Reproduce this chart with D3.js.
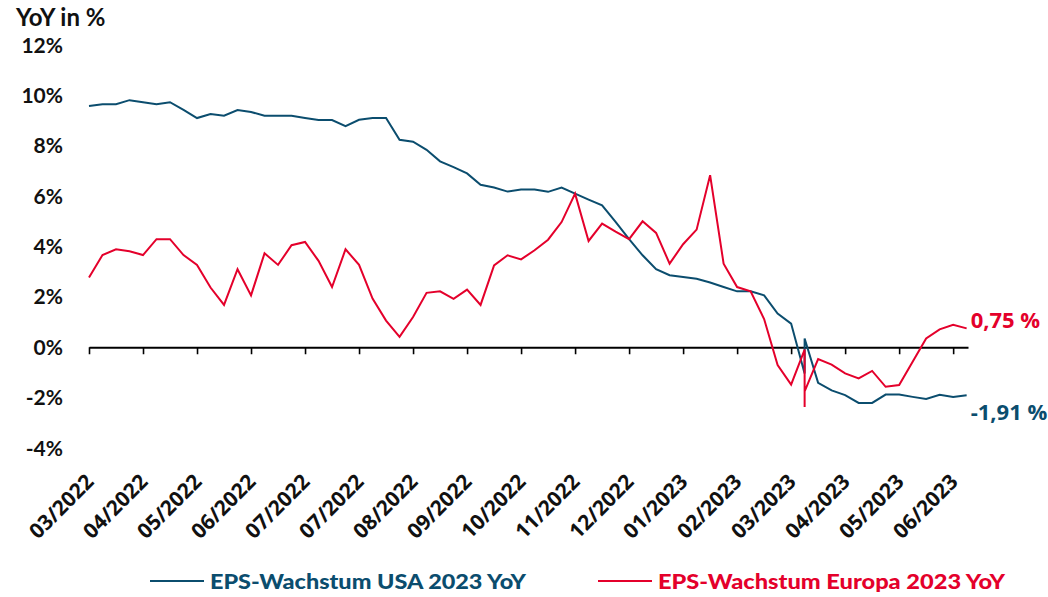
<!DOCTYPE html>
<html>
<head>
<meta charset="utf-8">
<script src="https://cdn.jsdelivr.net/npm/d3@7"></script>
<style>
  body { margin: 0; background: #ffffff; }
  svg { display: block; }
</style>
</head>
<body>
<div id="chart"></div>
<script>
"use strict";

var WIDTH = 1048;
var HEIGHT = 597;
var BLUE = '#0b4d6e';
var RED = '#e4002b';

// weekly observations; week 53 is listed three times (the vertical spike in the source)
var weeks = [0, 1, 2, 3, 4, 5, 6, 7, 8, 9,
  10, 11, 12, 13, 14, 15, 16, 17, 18, 19,
  20, 21, 22, 23, 24, 25, 26, 27, 28, 29,
  30, 31, 32, 33, 34, 35, 36, 37, 38, 39,
  40, 41, 42, 43, 44, 45, 46, 47, 48, 49,
  50, 51, 52,
  53, 53, 53,
  54, 55, 56, 57, 58, 59, 60, 61, 62, 63, 64, 65];

var usa = [9.58, 9.65, 9.65, 9.81, 9.73, 9.65, 9.73, 9.42, 9.10, 9.26,
  9.19, 9.42, 9.34, 9.19, 9.19, 9.19, 9.10, 9.02, 9.02, 8.78,
  9.03, 9.10, 9.10, 8.24, 8.16, 7.84, 7.38, 7.15, 6.90, 6.45,
  6.34, 6.18, 6.26, 6.26, 6.17, 6.34, 6.10, 5.86, 5.63, 4.98,
  4.29, 3.65, 3.10, 2.86, 2.79, 2.72, 2.57, 2.39, 2.22, 2.22,
  2.06, 1.34, 0.94,
  -1.04, 0.35, 0.35,
  -1.41, -1.71, -1.90, -2.21, -2.21, -1.88, -1.88, -1.97, -2.05, -1.89, -1.97, -1.91];

var europa = [2.77, 3.66, 3.89, 3.81, 3.66, 4.29, 4.29, 3.66, 3.27, 2.37,
  1.68, 3.10, 2.06, 3.73, 3.27, 4.05, 4.18, 3.43, 2.39, 3.89,
  3.27, 1.93, 1.06, 0.41, 1.20, 2.16, 2.22, 1.92, 2.29, 1.68,
  3.25, 3.65, 3.49, 3.85, 4.27, 4.97, 6.10, 4.22, 4.91, 4.59,
  4.29, 5.00, 4.54, 3.32, 4.09, 4.67, 6.83, 3.32, 2.39, 2.22,
  1.12, -0.71, -1.48,
  -0.09, -2.37, -1.75,
  -0.47, -0.69, -1.04, -1.24, -0.94, -1.57, -1.50, -0.58, 0.35, 0.71, 0.89, 0.75];

var tickWeeks = [0, 4, 8, 12, 16, 20, 24, 28, 32, 36, 40, 44, 48, 52, 56, 60, 64];
var tickLabels = ['03/2022', '04/2022', '05/2022', '06/2022', '07/2022', '07/2022',
  '08/2022', '09/2022', '10/2022', '11/2022', '12/2022', '01/2023', '02/2023',
  '03/2023', '04/2023', '05/2023', '06/2023'];
var yTicks = [-4, -2, 0, 2, 4, 6, 8, 10, 12];

var seriesNames = ['EPS-Wachstum USA 2023 YoY', 'EPS-Wachstum Europa 2023 YoY'];
var endLabels = ['-1,91 %', '0,75 %'];

function main() {
  var svg = d3.select('#chart')
    .append('svg')
    .attr('width', WIDTH)
    .attr('height', HEIGHT);

  var x = d3.scaleLinear().domain([0, 65.1]).range([89, 968]);
  var y = d3.scaleLinear().domain([-4, 12]).range([448, 45]);

  // axis title
  svg.append('text')
    .attr('x', 16)
    .attr('y', 26)
    .attr('font-family', 'Lato, sans-serif')
    .attr('font-weight', 700)
    .attr('font-size', 24)
    .attr('fill', '#111')
    .text('YoY in %');

  // y labels, no axis line, no grid
  svg.append('g')
    .selectAll('text')
    .data(yTicks)
    .enter()
    .append('text')
    .attr('x', 63)
    .attr('y', function(d) { return y(d); })
    .attr('dy', '0.36em')
    .attr('text-anchor', 'end')
    .attr('font-family', 'Lato, sans-serif')
    .attr('font-weight', 700)
    .attr('font-size', 21)
    .attr('fill', '#111')
    .text(function(d) { return d + '%'; });

  // x axis on the zero line
  var xAxis = d3.axisBottom(x)
    .tickValues(tickWeeks)
    .tickSize(7)
    .tickSizeOuter(0)
    .tickFormat('');

  var gx = svg.append('g')
    .attr('transform', 'translate(0,' + y(0) + ')')
    .call(xAxis);
  gx.select('.domain').attr('stroke', '#000').attr('stroke-width', 2);
  gx.selectAll('.tick line').attr('stroke', '#000').attr('stroke-width', 1.6);

  // category labels sit below the plot, rotated
  svg.append('g')
    .selectAll('text')
    .data(tickWeeks)
    .enter()
    .append('text')
    .attr('transform', function(d) {
      return 'translate(' + (x(d) + 6) + ',483) rotate(-45)';
    })
    .attr('text-anchor', 'end')
    .attr('font-family', '"Open Sans", sans-serif')
    .attr('font-weight', 700)
    .attr('font-size', 21)
    .attr('fill', '#111')
    .text(function(d, i) { return tickLabels[i]; });

  var line = d3.line()
    .x(function(d) { return x(d[0]); })
    .y(function(d) { return y(d[1]); });

  var series = [
    { name: seriesNames[0], color: BLUE, values: d3.zip(weeks, usa), end: endLabels[0], dy: 25 },
    { name: seriesNames[1], color: RED, values: d3.zip(weeks, europa), end: endLabels[1], dy: 0 }
  ];

  svg.append('g')
    .selectAll('path')
    .data(series)
    .enter()
    .append('path')
    .attr('fill', 'none')
    .attr('stroke', function(d) { return d.color; })
    .attr('stroke-width', 2)
    .attr('stroke-linejoin', 'miter')
    .attr('d', function(d) { return line(d.values); });

  // value labels at the line ends
  svg.append('g')
    .selectAll('text')
    .data(series)
    .enter()
    .append('text')
    .attr('x', function(d) { return x(d.values[d.values.length - 1][0]) + 4; })
    .attr('y', function(d) { return y(d.values[d.values.length - 1][1]) + d.dy; })
    .attr('font-family', '"Open Sans", sans-serif')
    .attr('font-weight', 700)
    .attr('font-size', 22)
    .attr('fill', function(d) { return d.color; })
    .text(function(d) { return d.end; });

  // legend
  var legendX = [150, 598];
  var legendW = [316, 347];
  var legend = svg.append('g')
    .selectAll('g')
    .data(series)
    .enter()
    .append('g')
    .attr('transform', function(d, i) { return 'translate(' + legendX[i] + ',581)'; });

  legend.append('line')
    .attr('x1', 0)
    .attr('x2', 54)
    .attr('stroke', function(d) { return d.color; })
    .attr('stroke-width', 2);

  legend.append('text')
    .attr('x', 60)
    .attr('dy', '0.36em')
    .attr('font-family', 'Lato, sans-serif')
    .attr('font-weight', 900)
    .attr('font-size', 21)
    .attr('textLength', function(d, i) { return legendW[i]; })
    .attr('lengthAdjust', 'spacingAndGlyphs')
    .attr('fill', function(d) { return d.color; })
    .text(function(d) { return d.name; });
}

main();
</script>
</body>
</html>
